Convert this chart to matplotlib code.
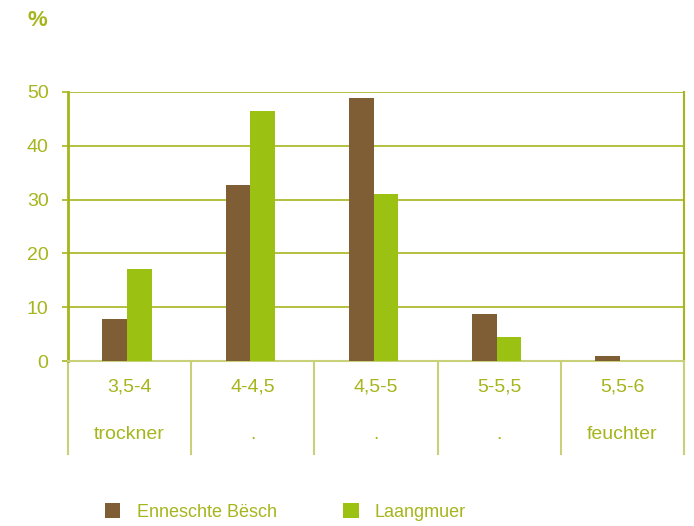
import matplotlib.pyplot as plt
import numpy as np
from matplotlib.lines import Line2D

plt.rcParams['font.family'] = ['Liberation Sans Narrow', 'Liberation Sans', 'DejaVu Sans']

# data
ranges = ['3,5-4', '4-4,5', '4,5-5', '5-5,5', '5,5-6']
notes = ['trockner', '.', '.', '.', 'feuchter']
besch = [7.8, 32.7, 48.9, 8.7, 1.0]
laangmuer = [17.1, 46.5, 31.0, 4.5, 0.0]
series_names = ['Enneschte Bësch', 'Laangmuer']

brown = '#7f5d35'
green = '#9bc112'
olive = '#a6b51c'
light_olive = '#c9d07a'

fig = plt.figure(figsize=(6.94, 5.26), dpi=100)
ax = fig.add_axes([68 / 694, 1 - 361 / 526, (684 - 68) / 694, (361 - 92) / 526])

x = np.arange(len(ranges))
w = 0.2
ax.bar(x - w / 2 - 0.02, besch, w, color=brown, label=series_names[0], zorder=3)
ax.bar(x + w / 2 - 0.02, laangmuer, w, color=green, label=series_names[1], zorder=3)

ax.set_xlim(-0.5, len(ranges) - 0.5)
ax.set_ylim(0, 50)
ax.set_yticks([0, 10, 20, 30, 40, 50])
ax.yaxis.grid(True, color=olive, lw=1.2)
ax.set_axisbelow(True)

ax.spines['top'].set_visible(False)
ax.spines['bottom'].set_color(light_olive)
ax.spines['bottom'].set_linewidth(1.5)
ax.spines['left'].set_color(olive)
ax.spines['left'].set_linewidth(2)
ax.spines['right'].set_color(olive)
ax.spines['right'].set_linewidth(1.5)

ax.tick_params(axis='y', colors=olive, labelsize=14, length=4, width=1.2, pad=10)
ax.tick_params(axis='x', bottom=False, labelbottom=False)
for t in ax.get_yticklabels():
    t.set_color(olive)

# category separators below the axis
for b in np.arange(len(ranges) + 1) - 0.5:
    ax.add_line(Line2D([b, b], [0, -0.346], transform=ax.get_xaxis_transform(),
                       color=light_olive, lw=1.5, clip_on=False))

for i in range(len(ranges)):
    ax.text(i, -0.095, ranges[i], transform=ax.get_xaxis_transform(),
            ha='center', va='center', color=olive, fontsize=14)
    ax.text(i, -0.275, notes[i], transform=ax.get_xaxis_transform(),
            ha='center', va='center', color=olive, fontsize=14)

fig.text(37 / 694, 1 - 20 / 526, '%', color=olive, fontsize=16, fontweight='bold',
         ha='center', va='center')

fig.legend(loc='center left', bbox_to_anchor=(105 / 694, 1 - 512 / 526), ncol=2,
           frameon=False, fontsize=13, labelcolor=olive, handlelength=0.85,
           handleheight=0.85, handletextpad=0.9, columnspacing=3.7,
           borderpad=0, borderaxespad=0)

plt.savefig('out.png', dpi=100)
